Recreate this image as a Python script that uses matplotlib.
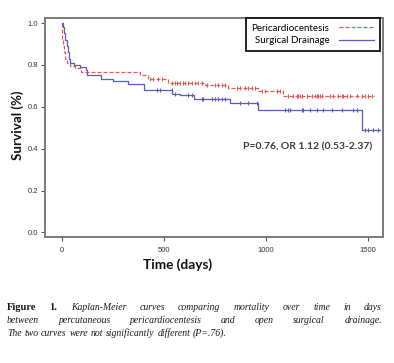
import matplotlib
matplotlib.use('Agg')
import matplotlib.pyplot as plt
import numpy as np

# ---------------- data ----------------
peri_times = [0, 1, 3, 5, 9, 15, 25, 40, 65, 95, 382, 420, 520, 700, 815, 960, 1083]
peri_surv = [1.0, 0.96, 0.92, 0.89, 0.86, 0.83, 0.81, 0.795, 0.785, 0.768, 0.752, 0.735, 0.715,
             0.703, 0.689, 0.673, 0.652]
peri_end = 1530
peri_censor = [470, 490, 431, 446, 539, 554, 564, 578, 593, 603, 618, 637, 652, 667, 686, 711,
               750, 765, 784, 799, 858, 873, 897, 912, 931, 946, 980, 995, 1054, 1069, 1108,
               1132, 1152, 1157, 1167, 1176, 1201, 1225, 1240, 1250, 1255, 1265, 1275, 1314,
               1328, 1353, 1373, 1377, 1397, 1412, 1446, 1471, 1485, 1500, 1520]

surg_times = [0, 5, 12, 18, 24, 30, 36, 42, 60, 88, 118, 125, 190, 250, 325, 402, 540, 580, 650,
              825, 961, 1470]
surg_surv = [1.0, 0.98, 0.95, 0.92, 0.89, 0.86, 0.83, 0.81, 0.80, 0.79, 0.776, 0.751, 0.735,
             0.725, 0.711, 0.681, 0.662, 0.655, 0.636, 0.616, 0.583, 0.487]
surg_end = 1556
surg_censor = [465, 480, 539, 554, 618, 637, 686, 691, 735, 750, 765, 784, 799, 873, 912, 956,
               1093, 1108, 1118, 1176, 1181, 1216, 1250, 1279, 1324, 1373, 1426, 1446, 1485,
               1500, 1525, 1549]

series_labels = ["Pericardiocentesis", "Surgical Drainage"]
x_ticks = [0, 500, 1000, 1500]
y_ticks = [0.0, 0.2, 0.4, 0.6, 0.8, 1.0]
y_ticklabels = ["0.0", "0.2", "0.4", "0.6", "0.8", "1.0"]
x_label = "Time (days)"
y_label = "Survival (%)"
stat_text = "P=0.76, OR 1.12 (0.53-2.37)"
caption_lines = [
    [("Figure", "b"), ("1.", "b"), ("Kaplan-Meier", "i"), ("curves", "i"), ("comparing", "i"),
     ("mortality", "i"), ("over", "i"), ("time", "i"), ("in", "i"), ("days", "i")],
    [("between", "i"), ("percutaneous", "i"), ("pericardiocentesis", "i"), ("and", "i"),
     ("open", "i"), ("surgical", "i"), ("drainage.", "i")],
    [("The", "i"), ("two", "i"), ("curves", "i"), ("were", "i"), ("not", "i"),
     ("significantly", "i"), ("different", "i"), ("(P=.76).", "i")],
]

RED = '#dc5a5a'
BLUE = '#5b5bbd'
W, H = 394, 363

fig = plt.figure(figsize=(W / 100, H / 100), dpi=100)
ax = fig.add_axes([45 / W, 1 - 237 / H, 338 / W, 219 / H])


def step_value(times, surv, t):
    idx = np.searchsorted(times, t, side='right') - 1
    return surv[idx]


def draw_km(times, surv, end, censor, color, dashed, label):
    xs = list(times) + [end]
    ys = list(surv) + [surv[-1]]
    line, = ax.step(xs, ys, where='post', color=color, lw=0.9, label=label)
    if dashed:
        line.set_dashes((3.2, 1.6))
    cy = [step_value(times, surv, t) for t in censor]
    ax.plot(censor, cy, ls='none', marker='|', ms=3.2, mew=0.8, color=color)
    return line


l1 = draw_km(peri_times, peri_surv, peri_end, peri_censor, RED, True, series_labels[0])
l2 = draw_km(surg_times, surg_surv, surg_end, surg_censor, BLUE, False, series_labels[1])

ax.set_xlim(-82, 1573)
ax.set_ylim(-0.022, 1.024)
ax.set_xticks(x_ticks)
ax.set_xticklabels([str(v) for v in x_ticks])
ax.set_yticks(y_ticks)
ax.set_yticklabels(y_ticklabels)
for s in ax.spines.values():
    s.set_color('#7a7a7a')
    s.set_linewidth(1.4)
ax.tick_params(axis='both', length=3, width=0.8, color='#555555', labelsize=5.5,
               labelcolor='#333333', pad=2)
for lab in ax.get_xticklabels() + ax.get_yticklabels():
    lab.set_family('Liberation Sans')
ax.tick_params(axis='x', pad=4)

leg = ax.legend(handles=[l1, l2], loc='upper right', bbox_to_anchor=(380 / W, 1 - 18 / H),
                bbox_transform=fig.transFigure, borderaxespad=0, markerfirst=False,
                fancybox=False, framealpha=1, edgecolor='#111111', handlelength=3.6,
                handletextpad=1.0, borderpad=0.6, labelspacing=0.32,
                prop={'family': 'Lato', 'size': 7})
leg.get_frame().set_linewidth(1.3)

ax.text((372 - 45) / 338, (237 - 147) / 219, stat_text, transform=ax.transAxes, ha='right',
        va='center', fontsize=7.5, family='Lato', fontweight='bold', color='#3a3a3a')

fig.text(18 / W, 1 - 125 / H, y_label, rotation=90, ha='center', va='center',
         fontsize=9.6, family='Lato', fontweight='bold', color='#111111')
fig.text(178 / W, 1 - 265 / H, x_label, ha='center', va='center',
         fontsize=9.8, family='Lato', fontweight='bold', color='#111111')

# caption, justified like the source
renderer = fig.canvas.get_renderer()
cap_size = 7.0
baselines = [310, 323, 336]
x0, x1 = 7, 382
for li, (words, yb) in enumerate(zip(caption_lines, baselines)):
    texts = []
    for w, st in words:
        t = fig.text(0, 1 - yb / H, w, ha='left', va='baseline',
                     fontsize=cap_size + (0.6 if st == 'b' else 0),
                     family='Liberation Serif', color='#1a1a1a',
                     fontweight='bold' if st == 'b' else 'normal',
                     fontstyle='normal' if st == 'b' else 'italic')
        texts.append(t)
    widths = [t.get_window_extent(renderer).width for t in texts]
    if li < len(caption_lines) - 1:
        gap = (x1 - x0 - sum(widths)) / (len(texts) - 1)
    else:
        gap = cap_size * 100 / 72 * 0.28
    x = x0
    for t, wdt in zip(texts, widths):
        t.set_x(x / W)
        x += wdt + gap

fig.savefig('out.png', dpi=100)
